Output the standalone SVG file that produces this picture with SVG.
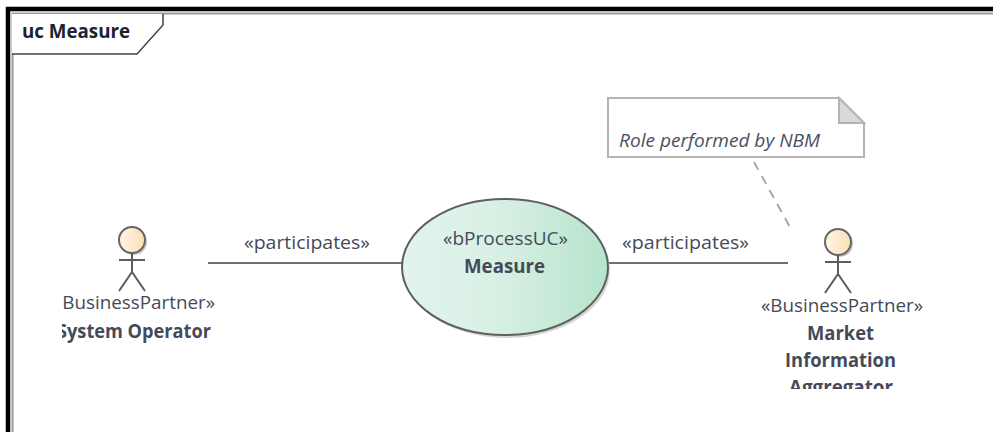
<svg xmlns="http://www.w3.org/2000/svg" width="993" height="432" viewBox="0 0 993 432">
<style>
text{font-family:"Open Sans","Noto Sans","Liberation Sans",sans-serif;fill:#454a58;font-size:19px}
.b{font-weight:700;font-size:19px}
.c{fill:none;stroke:#707070;stroke-width:2}
.a{fill:none;stroke:#5c5c5c;stroke-width:2}
</style>
<defs>
<linearGradient id="g1"><stop offset="0" stop-color="#e2f4ec"/><stop offset="0.45" stop-color="#d9f0e5"/><stop offset="1" stop-color="#b6e4cc"/></linearGradient>
<linearGradient id="g2"><stop offset="0" stop-color="#fff6e6"/><stop offset="1" stop-color="#fbdfb4"/></linearGradient>
<clipPath id="cl"><rect x="62" y="280" width="170" height="70"/></clipPath>
<clipPath id="cr"><rect x="740" y="280" width="200" height="109"/></clipPath>
<g id="stick">
<circle cx="2" cy="2" r="13" fill="#c9c9c9"/>
<circle cx="0" cy="0" r="13" fill="url(#g2)" stroke="#666" stroke-width="2"/>
<path class="a" d="M-13 20H13M0 13V32M-13 51L0 32L13 51"/>
</g>
</defs>
<rect width="993" height="432" fill="#fff"/>
<g id="frame">
<path d="M993 9H8V432" fill="none" stroke="#000" stroke-width="4.5"/>
<path d="M993 13.5H12.5V432" fill="none" stroke="#9a9a9a" stroke-width="2"/>
</g>
<g id="title">
<path d="M12 14H163V25L137 54H12Z" fill="#fff"/>
<path d="M163 14V25L137 54H12" fill="none" stroke="#444" stroke-width="1.5"/>
<text x="22" y="38" textLength="108" lengthAdjust="spacingAndGlyphs" style="fill:#1c2230;font-weight:700">uc Measure</text>
</g>
<g id="connectors">
<path class="c" d="M208 263H402"/>
<path class="c" d="M608 263H788"/>
<path d="M754 162L791 229" fill="none" stroke="#a8a8a8" stroke-width="2" stroke-dasharray="9 7"/>
</g>
<g id="labels">
<text x="244" y="249" textLength="126" lengthAdjust="spacingAndGlyphs">«participates»</text>
<text x="622" y="249" textLength="127" lengthAdjust="spacingAndGlyphs">«participates»</text>
</g>
<g id="usecase">
<ellipse cx="507" cy="270" rx="103" ry="68" fill="#c4c4c4" opacity=".7"/>
<ellipse cx="505" cy="267" rx="103" ry="68" fill="url(#g1)" stroke="#5f5f5f" stroke-width="2"/>
<text x="443" y="245" textLength="125" lengthAdjust="spacingAndGlyphs">«bProcessUC»</text>
<text class="b" x="464" y="273" textLength="81" lengthAdjust="spacingAndGlyphs">Measure</text>
</g>
<g id="note">
<path d="M608 98H839L864 123V157H608Z" fill="#fff" stroke="#b4b4b4" stroke-width="2"/>
<path d="M839 98L864 123H839Z" fill="#d9d9d9" stroke="#b4b4b4" stroke-width="2"/>
<text x="619" y="147" textLength="201" lengthAdjust="spacingAndGlyphs" style="font-style:italic;fill:#4a5160">Role performed by NBM</text>
</g>
<g id="actor-left">
<use href="#stick" x="132" y="240"/>
<g clip-path="url(#cl)">
<text x="53" y="309" textLength="162" lengthAdjust="spacingAndGlyphs">«BusinessPartner»</text>
<text class="b" x="57" y="338" textLength="154" lengthAdjust="spacingAndGlyphs">System Operator</text>
</g>
</g>
<g id="actor-right">
<use href="#stick" x="838" y="242"/>
<g clip-path="url(#cr)">
<text x="761" y="312" textLength="162" lengthAdjust="spacingAndGlyphs">«BusinessPartner»</text>
<text class="b" x="807" y="340" textLength="67" lengthAdjust="spacingAndGlyphs">Market</text>
<text class="b" x="785" y="367" textLength="111" lengthAdjust="spacingAndGlyphs">Information</text>
<text class="b" x="789" y="394" textLength="104" lengthAdjust="spacingAndGlyphs">Aggregator</text>
</g>
</g>
</svg>
